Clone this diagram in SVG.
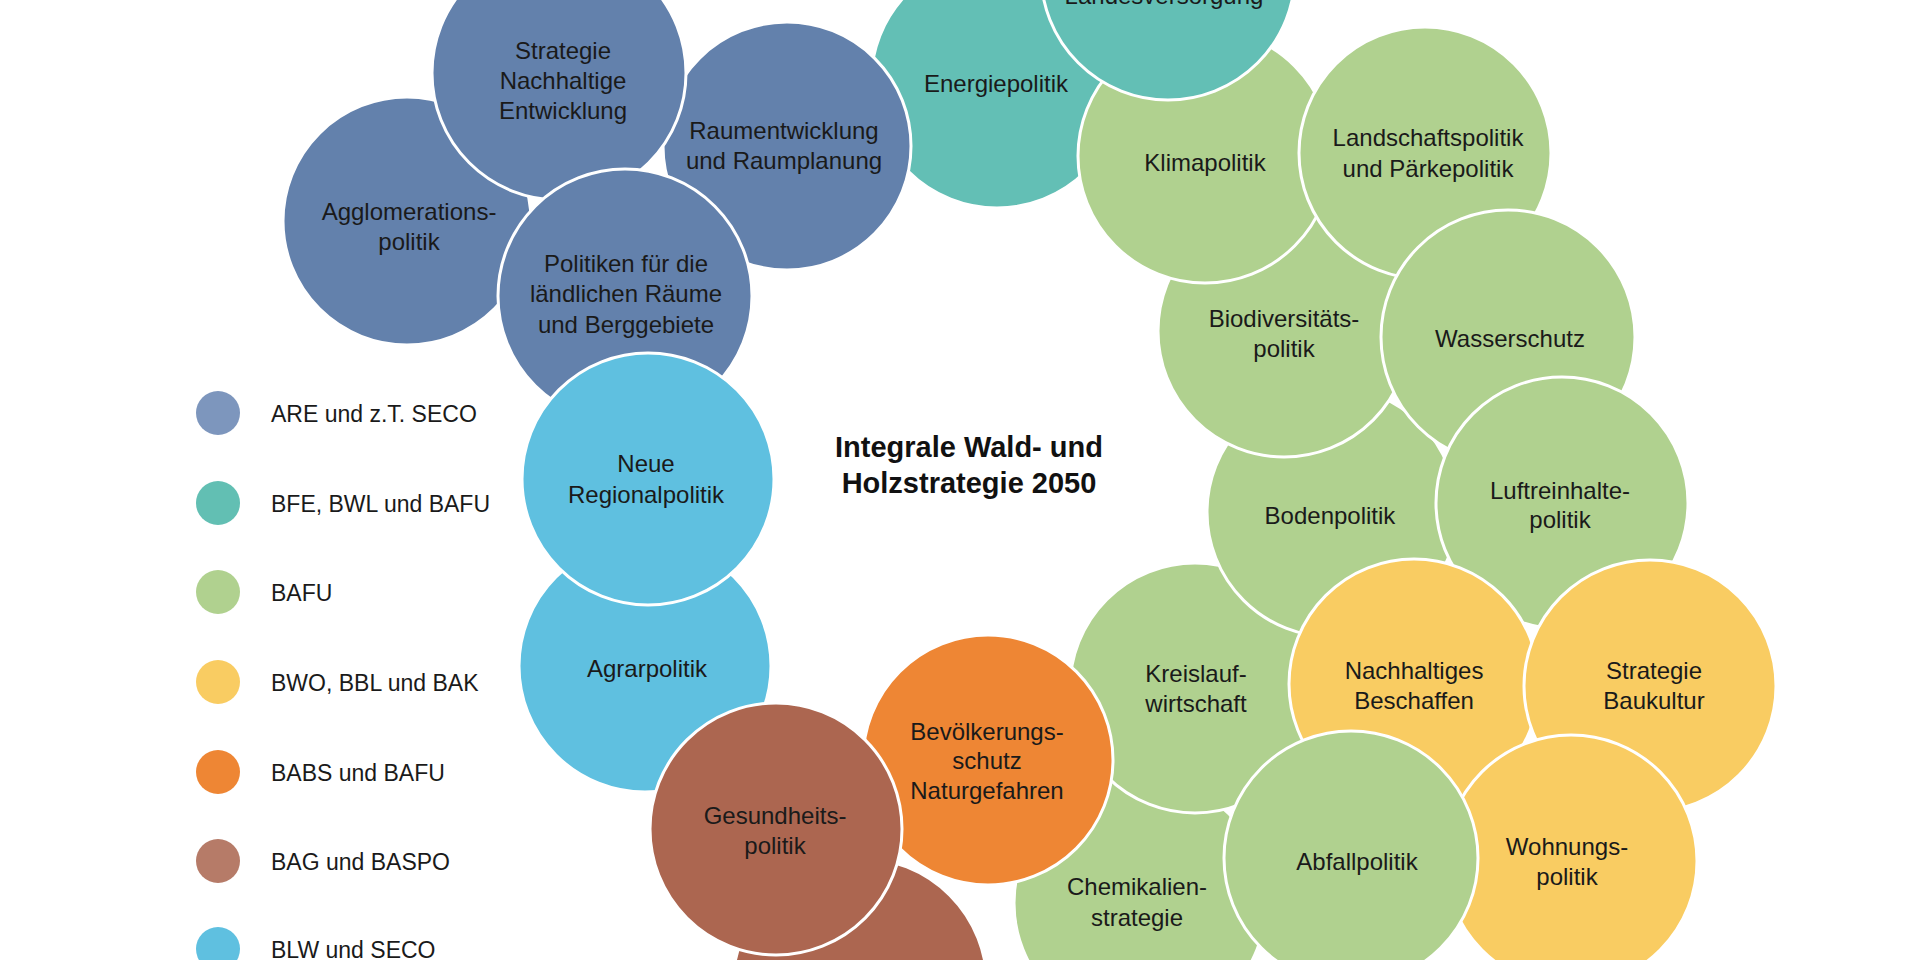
<svg xmlns="http://www.w3.org/2000/svg" width="1920" height="960" viewBox="0 0 1920 960">
<style>
  .c { stroke: #ffffff; stroke-width: 3; }
  .are { fill: #6381AC; }
  .bfe { fill: #63BFB5; }
  .bafu { fill: #B0D18F; }
  .bwo { fill: #F9CC62; }
  .babs { fill: #EE8634; }
  .bag { fill: #AC6650; }
  .blw { fill: #5FC0E0; }
  .t { font-family: "Liberation Sans", Arial, sans-serif; font-size: 24px; fill: #1a1a1a; text-anchor: middle; }
  .lg { font-family: "Liberation Sans", Arial, sans-serif; font-size: 23px; fill: #1a1a1a; }
  .title { font-family: "Liberation Sans", Arial, sans-serif; font-size: 29px; font-weight: bold; fill: #111111; text-anchor: middle; }
</style>
<rect x="0" y="0" width="1920" height="960" fill="#ffffff"/>
<g id="connectors"/>

<g id="chemikalienstrategie"><circle class="c bafu" cx="1140" cy="903" r="126"/><text class="t"><tspan x="1137" y="895">Chemikalien-</tspan><tspan x="1137" y="926">strategie</tspan></text></g>
<g id="kreislaufwirtschaft"><circle class="c bafu" cx="1195" cy="688" r="125"/><text class="t"><tspan x="1196" y="682">Kreislauf-</tspan><tspan x="1196" y="712">wirtschaft</tspan></text></g>
<g id="bevoelkerungsschutz"><circle class="c babs" cx="988" cy="760" r="125"/><text class="t"><tspan x="987" y="740">Bevölkerungs-</tspan><tspan x="987" y="769">schutz</tspan><tspan x="987" y="799">Naturgefahren</tspan></text></g>
<g id="bodenpolitik"><circle class="c bafu" cx="1332" cy="512" r="125"/><text class="t"><tspan x="1330" y="524">Bodenpolitik</tspan></text></g>
<g id="biodiversitaetspolitik"><circle class="c bafu" cx="1284" cy="331" r="126"/><text class="t"><tspan x="1284" y="327">Biodiversitäts-</tspan><tspan x="1284" y="357">politik</tspan></text></g>
<g id="energiepolitik"><circle class="c bfe" cx="997" cy="82" r="126"/><text class="t"><tspan x="996" y="92">Energiepolitik</tspan></text></g>
<g id="klimapolitik"><circle class="c bafu" cx="1205" cy="156" r="127"/><text class="t"><tspan x="1205" y="171">Klimapolitik</tspan></text></g>
<g id="landesversorgung"><circle class="c bfe" cx="1168" cy="-27" r="127"/><text class="t"><tspan x="1164" y="4">Landesversorgung</tspan></text></g>
<g id="landschaftspolitik"><circle class="c bafu" cx="1425" cy="153" r="126"/><text class="t"><tspan x="1428" y="146">Landschaftspolitik</tspan><tspan x="1428" y="177">und Pärkepolitik</tspan></text></g>
<g id="wasserschutz"><circle class="c bafu" cx="1508" cy="337" r="127"/><text class="t"><tspan x="1510" y="347">Wasserschutz</tspan></text></g>
<g id="luftreinhaltepolitik"><circle class="c bafu" cx="1562" cy="503" r="126"/><text class="t"><tspan x="1560" y="499">Luftreinhalte-</tspan><tspan x="1560" y="528">politik</tspan></text></g>
<g id="nachhaltiges-beschaffen"><circle class="c bwo" cx="1414" cy="684" r="125"/><text class="t"><tspan x="1414" y="679">Nachhaltiges</tspan><tspan x="1414" y="709">Beschaffen</tspan></text></g>
<g id="strategie-baukultur"><circle class="c bwo" cx="1650" cy="686" r="126"/><text class="t"><tspan x="1654" y="679">Strategie</tspan><tspan x="1654" y="709">Baukultur</tspan></text></g>
<g id="wohnungspolitik"><circle class="c bwo" cx="1571" cy="861" r="126"/><text class="t"><tspan x="1567" y="855">Wohnungs-</tspan><tspan x="1567" y="885">politik</tspan></text></g>
<g id="abfallpolitik"><circle class="c bafu" cx="1351" cy="858" r="127"/><text class="t"><tspan x="1357" y="870">Abfallpolitik</tspan></text></g>

<g id="agglomerationspolitik"><circle class="c are" cx="407" cy="221" r="124"/><text class="t"><tspan x="409" y="220">Agglomerations-</tspan><tspan x="409" y="250">politik</tspan></text></g>
<g id="raumentwicklung"><circle class="c are" cx="787" cy="146" r="124"/><text class="t"><tspan x="784" y="139">Raumentwicklung</tspan><tspan x="784" y="169">und Raumplanung</tspan></text></g>
<g id="strategie-nachhaltige-entwicklung"><circle class="c are" cx="559" cy="73" r="127"/><text class="t"><tspan x="563" y="59">Strategie</tspan><tspan x="563" y="89">Nachhaltige</tspan><tspan x="563" y="119">Entwicklung</tspan></text></g>
<g id="laendliche-raeume"><circle class="c are" cx="625" cy="296" r="127"/><text class="t"><tspan x="626" y="272">Politiken für die</tspan><tspan x="626" y="302">ländlichen Räume</tspan><tspan x="626" y="333">und Berggebiete</tspan></text></g>
<g id="agrarpolitik"><circle class="c blw" cx="645" cy="666" r="126"/><text class="t"><tspan x="647" y="677">Agrarpolitik</tspan></text></g>
<g id="neue-regionalpolitik"><circle class="c blw" cx="648" cy="479" r="126"/><text class="t"><tspan x="646" y="472">Neue</tspan><tspan x="646" y="503">Regionalpolitik</tspan></text></g>
<g id="brown-bottom"><circle class="c bag" cx="860" cy="985" r="127"/></g>
<g id="gesundheitspolitik"><circle class="c bag" cx="776" cy="829" r="126"/><text class="t"><tspan x="775" y="824">Gesundheits-</tspan><tspan x="775" y="854">politik</tspan></text></g>

<g id="title"><text class="title"><tspan x="969" y="457">Integrale Wald- und</tspan><tspan x="969" y="493">Holzstrategie 2050</tspan></text></g>

<g id="legend">
  <circle cx="218" cy="413" r="22" fill="#7D96BD"/><text class="lg" x="271" y="422">ARE und z.T. SECO</text>
  <circle cx="218" cy="503" r="22" fill="#62BFB3"/><text class="lg" x="271" y="512">BFE, BWL und BAFU</text>
  <circle cx="218" cy="592" r="22" fill="#B0D18F"/><text class="lg" x="271" y="601">BAFU</text>
  <circle cx="218" cy="682" r="22" fill="#F9CC62"/><text class="lg" x="271" y="691">BWO, BBL und BAK</text>
  <circle cx="218" cy="772" r="22" fill="#EE8634"/><text class="lg" x="271" y="781">BABS und BAFU</text>
  <circle cx="218" cy="861" r="22" fill="#B67B68"/><text class="lg" x="271" y="870">BAG und BASPO</text>
  <circle cx="218" cy="949" r="22" fill="#5FC0E0"/><text class="lg" x="271" y="958">BLW und SECO</text>
</g>
</svg>
